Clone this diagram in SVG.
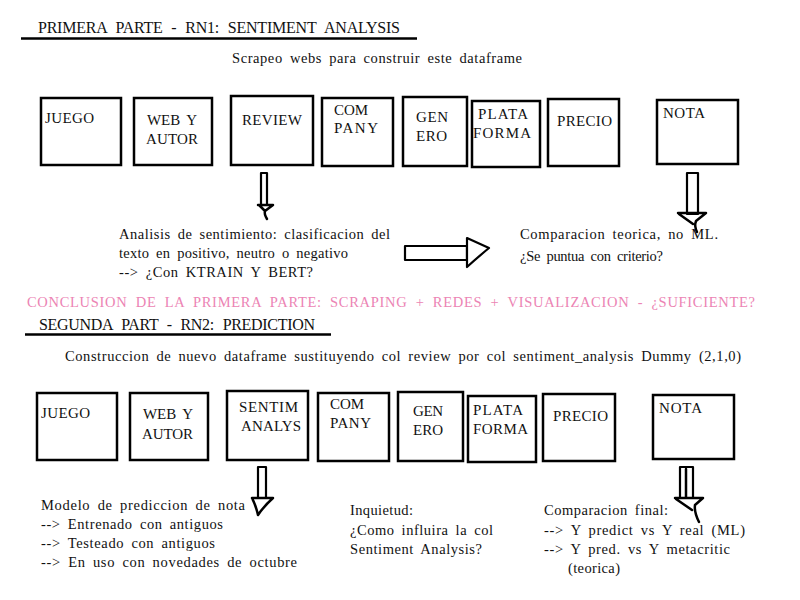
<svg xmlns="http://www.w3.org/2000/svg" width="800" height="600" viewBox="0 0 800 600">
<style>
  text { font-family: "Liberation Serif", "Times New Roman", serif; fill: #111; }
  .title { font-size: 16px; word-spacing: 5px; }
  .body { font-size: 14.5px; word-spacing: 3px; }
  .lbl { font-size: 15px; word-spacing: 3px; }
  .pink { font-size: 14.5px; fill: #ec84b4; word-spacing: 4px; }
  .box { fill: #fff; stroke: #000; stroke-width: 2.5; }
  .rule { stroke: #000; stroke-width: 2.5; }
  .arr { fill: #fff; stroke: #000; stroke-width: 2.2; stroke-linejoin: round; stroke-linecap: round; }
  .arrh { fill: none; stroke: #000; stroke-width: 2.5; stroke-linejoin: round; stroke-linecap: round; }
</style>
<rect width="800" height="600" fill="#fff"/>

<!-- Part 1 header -->
<text class="title" x="38" y="33" textLength="362" lengthAdjust="spacing">PRIMERA PARTE - RN1: SENTIMENT ANALYSIS</text>
<line class="rule" x1="21" y1="38.5" x2="417" y2="38.5"/>
<text class="body" x="232" y="63" textLength="290" lengthAdjust="spacing">Scrapeo webs para construir este dataframe</text>

<!-- Row 1 nodes -->
<g id="r1-juego"><rect class="box" x="41" y="98" width="80" height="67"/><text class="lbl" x="45" y="123" textLength="49" lengthAdjust="spacing">JUEGO</text></g>
<g id="r1-web"><rect class="box" x="134" y="98" width="78" height="67"/><text class="lbl" x="147" y="125" textLength="50" lengthAdjust="spacing">WEB Y</text><text class="lbl" x="146" y="144" textLength="52" lengthAdjust="spacing">AUTOR</text></g>
<g id="r1-review"><rect class="box" x="231" y="96" width="82" height="69"/><text class="lbl" x="242" y="125" textLength="60" lengthAdjust="spacing">REVIEW</text></g>
<g id="r1-company"><rect class="box" x="322" y="98" width="71" height="68"/><text class="lbl" x="334" y="115" textLength="34" lengthAdjust="spacing">COM</text><text class="lbl" x="334" y="133" textLength="44" lengthAdjust="spacing">PANY</text></g>
<g id="r1-genero"><rect class="box" x="403" y="97" width="64" height="69"/><text class="lbl" x="416" y="122" textLength="32" lengthAdjust="spacing">GEN</text><text class="lbl" x="416" y="141" textLength="31" lengthAdjust="spacing">ERO</text></g>
<g id="r1-plataforma"><rect class="box" x="472" y="101" width="68" height="66"/><text class="lbl" x="478" y="119" textLength="50" lengthAdjust="spacing">PLATA</text><text class="lbl" x="473" y="138" textLength="58" lengthAdjust="spacing">FORMA</text></g>
<g id="r1-precio"><rect class="box" x="548" y="99" width="71" height="67"/><text class="lbl" x="557" y="126" textLength="55" lengthAdjust="spacing">PRECIO</text></g>
<g id="r1-nota"><rect class="box" x="657" y="100" width="81" height="64"/><text class="lbl" x="663" y="118" textLength="42" lengthAdjust="spacing">NOTA</text></g>

<!-- Part 1 notes -->
<g id="n-analisis">
  <text class="body" x="119" y="239" textLength="271" lengthAdjust="spacing">Analisis de sentimiento: clasificacion del</text>
  <text class="body" x="119" y="258" textLength="229" lengthAdjust="spacing">texto en positivo, neutro o negativo</text>
  <text class="body" x="119" y="277" textLength="194" lengthAdjust="spacing">--&gt; ¿Con KTRAIN Y BERT?</text>
</g>
<g id="n-comparacion">
  <text class="body" x="520" y="239" textLength="198" lengthAdjust="spacing">Comparacion teorica, no ML.</text>
  <text class="body" x="520" y="261" textLength="143" lengthAdjust="spacing">¿Se puntua con criterio?</text>
</g>

<text class="pink" x="27" y="307" textLength="728" lengthAdjust="spacing">CONCLUSION DE LA PRIMERA PARTE: SCRAPING + REDES + VISUALIZACION - ¿SUFICIENTE?</text>

<!-- Part 2 header -->
<text class="title" x="39" y="330" textLength="276" lengthAdjust="spacing">SEGUNDA PART - RN2: PREDICTION</text>
<line class="rule" x1="25" y1="334.5" x2="331" y2="334.5"/>
<text class="body" x="65" y="361" textLength="676" lengthAdjust="spacing">Construccion de nuevo dataframe sustituyendo col review por col sentiment_analysis Dummy (2,1,0)</text>

<!-- Row 2 nodes -->
<g id="r2-juego"><rect class="box" x="37" y="393" width="80" height="67"/><text class="lbl" x="41" y="418" textLength="49" lengthAdjust="spacing">JUEGO</text></g>
<g id="r2-web"><rect class="box" x="130" y="393" width="78" height="67"/><text class="lbl" x="143" y="419" textLength="50" lengthAdjust="spacing">WEB Y</text><text class="lbl" x="142" y="439" textLength="51" lengthAdjust="spacing">AUTOR</text></g>
<g id="r2-sentim"><rect class="box" x="227" y="391" width="81" height="69"/><text class="lbl" x="239" y="412" textLength="59" lengthAdjust="spacing">SENTIM</text><text class="lbl" x="241" y="431" textLength="60" lengthAdjust="spacing">ANALYS</text></g>
<g id="r2-company"><rect class="box" x="318" y="393" width="71" height="68"/><text class="lbl" x="330" y="409" textLength="34" lengthAdjust="spacing">COM</text><text class="lbl" x="330" y="428" textLength="41" lengthAdjust="spacing">PANY</text></g>
<g id="r2-genero"><rect class="box" x="398" y="392" width="65" height="69"/><text class="lbl" x="413" y="416" textLength="30" lengthAdjust="spacing">GEN</text><text class="lbl" x="413" y="435" textLength="30" lengthAdjust="spacing">ERO</text></g>
<g id="r2-plataforma"><rect class="box" x="468" y="396" width="68" height="66"/><text class="lbl" x="473" y="415" textLength="50" lengthAdjust="spacing">PLATA</text><text class="lbl" x="473" y="434" textLength="55" lengthAdjust="spacing">FORMA</text></g>
<g id="r2-precio"><rect class="box" x="543" y="394" width="72" height="67"/><text class="lbl" x="553" y="421" textLength="55" lengthAdjust="spacing">PRECIO</text></g>
<g id="r2-nota"><rect class="box" x="653" y="395" width="81" height="64"/><text class="lbl" x="659" y="413" textLength="43" lengthAdjust="spacing">NOTA</text></g>

<!-- Part 2 notes -->
<g id="n-modelo">
  <text class="body" x="41" y="510" textLength="204" lengthAdjust="spacing">Modelo de prediccion de nota</text>
  <text class="body" x="41" y="529" textLength="182" lengthAdjust="spacing">--&gt; Entrenado con antiguos</text>
  <text class="body" x="41" y="548" textLength="174" lengthAdjust="spacing">--&gt; Testeado con antiguos</text>
  <text class="body" x="41" y="567" textLength="256" lengthAdjust="spacing">--&gt; En uso con novedades de octubre</text>
</g>
<g id="n-inquietud">
  <text class="body" x="350" y="515" textLength="63" lengthAdjust="spacing">Inquietud:</text>
  <text class="body" x="350" y="535" textLength="143" lengthAdjust="spacing">¿Como influira la col</text>
  <text class="body" x="350" y="554" textLength="132" lengthAdjust="spacing">Sentiment Analysis?</text>
</g>
<g id="n-final">
  <text class="body" x="544" y="515" textLength="124" lengthAdjust="spacing">Comparacion final:</text>
  <text class="body" x="544" y="535" textLength="201" lengthAdjust="spacing">--&gt; Y predict vs Y real (ML)</text>
  <text class="body" x="544" y="554" textLength="186" lengthAdjust="spacing">--&gt; Y pred. vs Y metacritic</text>
  <text class="body" x="568" y="573" textLength="52" lengthAdjust="spacing">(teorica)</text>
</g>

<!-- Connectors (hand-drawn block arrows) -->
<g id="connectors">
  <!-- review -> analisis -->
  <rect class="arr" x="261" y="173" width="6" height="32"/>
  <path class="arrh" d="M258 205 L273 205 L265 211 Q264 214 267 219 M259 205 Q262 208 265 211"/>
  <!-- analisis -> comparacion -->
  <rect class="arr" x="405" y="246" width="62" height="14"/>
  <path class="arr" d="M467 238 Q478 243 489 248 Q478 257 467 267 Z"/>
  <!-- nota -> comparacion -->
  <rect class="arr" x="687" y="173" width="11" height="41"/>
  <path class="arrh" d="M678 213 L706 213 L696 221 Q694 226 697 232 M679 214 L693 224"/>
  <!-- sentim -> modelo -->
  <rect class="arr" x="258" y="467" width="8" height="31"/>
  <path class="arrh" d="M252 498 L273 498 Q264 506 258 515 Q256 506 252 498"/>
  <!-- nota -> comparacion final -->
  <rect class="arr" x="680" y="467" width="13" height="31"/>
  <line class="arrh" x1="686" y1="469" x2="686" y2="497"/>
  <path class="arrh" d="M675 498 L703 498 L695 505 Q694 512 699 522 M676 499 L692 510"/>
</g>
</svg>
